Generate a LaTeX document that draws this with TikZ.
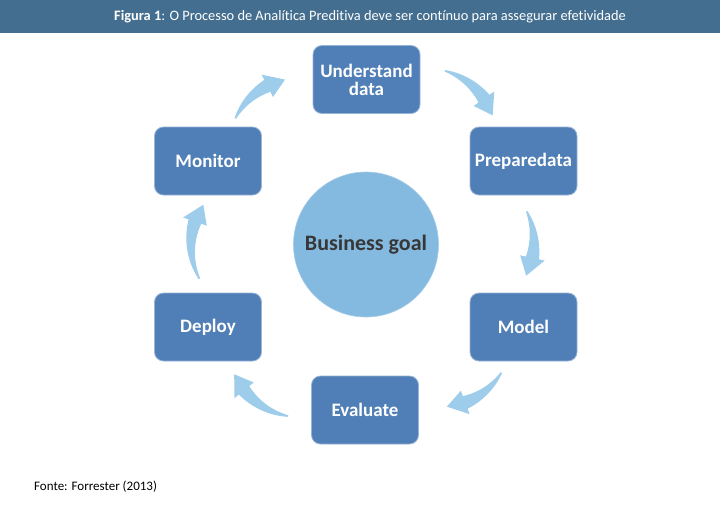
\documentclass[tikz,border=0pt]{standalone}
\usepackage{fontspec}
\setmainfont[RawFeature={-liga;-dlig}]{Carlito}
\definecolor{hdr}{RGB}{68,110,143}
\definecolor{boxfill}{RGB}{79,127,182}
\definecolor{boxedge}{RGB}{150,180,214}
\definecolor{goalfill}{RGB}{132,185,224}
\definecolor{goaledge}{RGB}{165,205,235}
\definecolor{arrowfill}{RGB}{158,204,235}
\definecolor{goaltext}{RGB}{55,55,55}
% cx, cy, tail angle, tip angle (screen angles, clockwise)
\newcommand{\bentarrow}[4]{%
  \begin{scope}[shift={(#1,#2)}]
    \pgfmathsetmacro\aA{#3}%
    \pgfmathsetmacro\aC{#4}%
    \pgfmathsetmacro\aB{#4-15}%
    \fill[arrowfill]
      plot[domain=\aA:\aB, samples=30, variable=\t] (\t:{72+0.8+5.9*(\t-\aA)/(\aB-\aA)})
      -- (\aB:84.5) -- (\aC:72) -- (\aB:59.5)
      -- plot[domain=\aB:\aA, samples=30, variable=\t] (\t:{72-0.8-5.9*(\t-\aA)/(\aB-\aA)})
      -- cycle;
  \end{scope}}
\begin{document}
\begin{tikzpicture}[x=1pt,y=-1pt,
  stepbox/.style={rectangle, rounded corners=9pt, fill=boxfill, draw=boxedge,
    line width=0.8pt, minimum width=107pt, minimum height=68pt, text=white,
    font=\fontsize{19}{18}\selectfont\bfseries, align=center, inner sep=0pt},
  goalnode/.style={circle, fill=goalfill, draw=goaledge, line width=0.6pt,
    minimum size=145pt, text=goaltext, font=\fontsize{22}{24}\selectfont\bfseries, inner sep=0pt},
  titletext/.style={text=white, font=\fontsize{14.4}{16}\selectfont, inner sep=0pt},
  srctext/.style={text=black, font=\fontsize{13}{15}\selectfont, inner sep=0pt}]
\useasboundingbox (0,0) rectangle (720,507);
\fill[white] (0,0) rectangle (720,507);
\fill[hdr] (0,0) rectangle (720,33);
\node[titletext] (title) at (370,17) {\textbf{Figura 1}: O Processo de Analítica Preditiva deve ser contínuo para assegurar efetividade};

\node[stepbox] (understand) at (366.5,79.5) {Understand\\data};
\node[stepbox] (prepare) at (523.5,161) {Preparedata};
\node[stepbox] (model) at (523.5,327) {Model};
\node[stepbox] (evaluate) at (365,410) {Evaluate};
\node[stepbox] (deploy) at (208,327) {Deploy};
\node[stepbox] (monitor) at (208,161) {Monitor};
\node[goalnode] (goal) at (366,244.5) {Business goal};

\bentarrow{300}{150}{206}{258}
\bentarrow{425}{140}{-74}{-20}
\bentarrow{462}{243}{-26}{27}
\bentarrow{440}{335}{31.5}{84.5}
\bentarrow{300}{345}{99.5}{156}
\bentarrow{263}{245}{152}{214}

\node[srctext, anchor=base west] (source) at (34,490) {Fonte: Forrester (2013)};
\end{tikzpicture}
\end{document}
